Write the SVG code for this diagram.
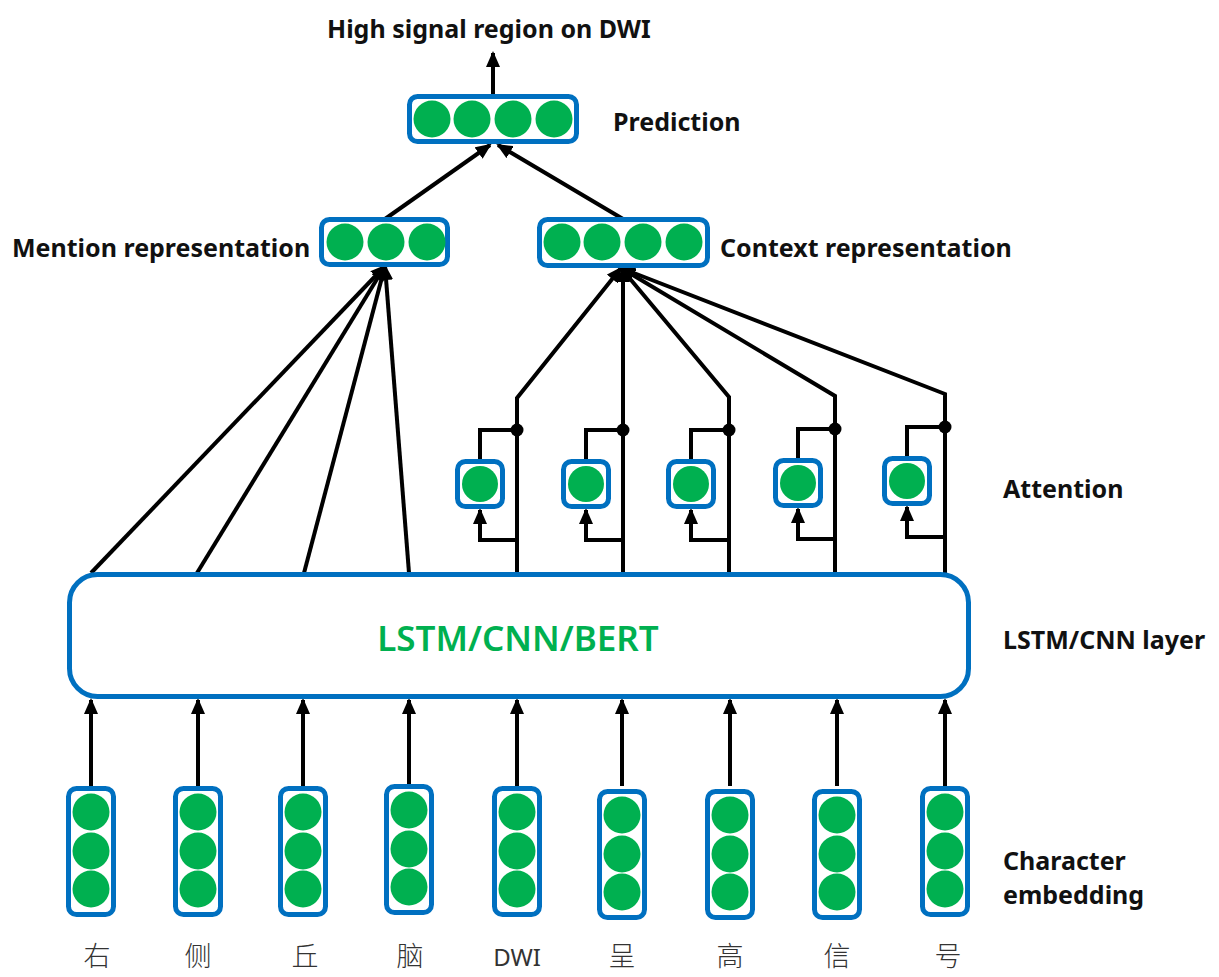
<svg xmlns="http://www.w3.org/2000/svg" width="1219" height="977" viewBox="0 0 1219 977">
<defs>
<marker id="ah" markerUnits="userSpaceOnUse" markerWidth="16" markerHeight="14" refX="14" refY="7" orient="auto">
<path d="M0,0 L16,7 L0,14 Z" fill="#000"/>
</marker>
<style>
.box{fill:#fff;stroke:#0070C0;stroke-width:5}
.dot{fill:#00B050}
.ln{fill:none;stroke:#000;stroke-width:4;stroke-linejoin:miter}
.ar{fill:none;stroke:#000;stroke-width:4;marker-end:url(#ah)}
.lbl{font-family:"Noto Sans","Liberation Sans",sans-serif;font-weight:bold;font-size:25px;fill:#111}
.ch{font-family:"Noto Sans CJK SC","Noto Sans",sans-serif;font-weight:300;font-size:27px;fill:#333;text-anchor:middle}
.dwi{font-family:"Noto Sans","Liberation Sans",sans-serif;font-weight:normal;font-size:24px;fill:#333;text-anchor:middle}
</style>
</defs>
<rect width="1219" height="977" fill="#fff"/>

<g id="connectors">
<line class="ar" x1="493" y1="94" x2="493" y2="53"/>
<line class="ar" x1="385" y1="219" x2="490" y2="145"/>
<line class="ar" x1="623" y1="219" x2="498" y2="145"/>
<line class="ar" x1="91" y1="573" x2="385" y2="266"/>
<line class="ar" x1="197" y1="573" x2="385" y2="266"/>
<line class="ar" x1="304" y1="573" x2="385" y2="266"/>
<line class="ar" x1="409" y1="573" x2="385" y2="266"/>
<polyline class="ar" points="517,573 517,398 621,268"/>
<polyline class="ar" points="623,573 623,268"/>
<polyline class="ar" points="729,573 729,397 621,268"/>
<polyline class="ar" points="835,573 835,396 621,268"/>
<polyline class="ar" points="945,573 945,394 621,268"/>
<polyline class="ln" points="517,430 480,430 480,459"/>
<polyline class="ar" points="517,540 480,540 480,510"/>
<polyline class="ln" points="623,430 586,430 586,459"/>
<polyline class="ar" points="623,540 586,540 586,510"/>
<polyline class="ln" points="729,430 691,430 691,459"/>
<polyline class="ar" points="729,540 691,540 691,510"/>
<polyline class="ln" points="835,429 798,429 798,458"/>
<polyline class="ar" points="835,539 798,539 798,509"/>
<polyline class="ln" points="945,427 907,427 907,456"/>
<polyline class="ar" points="945,537 907,537 907,507"/>
<circle cx="517" cy="430" r="6.5" fill="#000"/>
<circle cx="623" cy="430" r="6.5" fill="#000"/>
<circle cx="729" cy="430" r="6.5" fill="#000"/>
<circle cx="835" cy="429" r="6.5" fill="#000"/>
<circle cx="945" cy="427" r="6.5" fill="#000"/>
<line class="ar" x1="91" y1="786" x2="91" y2="700"/>
<line class="ar" x1="198" y1="786" x2="198" y2="700"/>
<line class="ar" x1="303" y1="786" x2="303" y2="700"/>
<line class="ar" x1="409" y1="786" x2="409" y2="700"/>
<line class="ar" x1="517" y1="786" x2="517" y2="700"/>
<line class="ar" x1="622" y1="786" x2="622" y2="700"/>
<line class="ar" x1="730" y1="786" x2="730" y2="700"/>
<line class="ar" x1="837" y1="786" x2="837" y2="700"/>
<line class="ar" x1="945" y1="786" x2="945" y2="700"/>
</g>

<g id="output-label">
<text class="lbl" x="327" y="38">High signal region on DWI</text>
</g>

<g id="prediction">
<rect class="box" x="409.5" y="96.5" width="167" height="45" rx="8"/>
<circle class="dot" cx="432" cy="119" r="18.5"/>
<circle class="dot" cx="472" cy="119" r="18.5"/>
<circle class="dot" cx="513" cy="119" r="18.5"/>
<circle class="dot" cx="554" cy="119" r="18.5"/>
<text class="lbl" x="613" y="131">Prediction</text>
</g>

<g id="mention">
<rect class="box" x="321.5" y="219.5" width="126" height="45" rx="8"/>
<circle class="dot" cx="345" cy="242" r="18.5"/>
<circle class="dot" cx="386" cy="242" r="18.5"/>
<circle class="dot" cx="427" cy="242" r="18.5"/>
<text class="lbl" x="12" y="257">Mention representation</text>
</g>

<g id="context">
<rect class="box" x="539.5" y="219.5" width="168" height="46" rx="8"/>
<circle class="dot" cx="562" cy="242" r="18.5"/>
<circle class="dot" cx="602" cy="242" r="18.5"/>
<circle class="dot" cx="643" cy="242" r="18.5"/>
<circle class="dot" cx="684" cy="242" r="18.5"/>
<text class="lbl" x="720" y="257">Context representation</text>
</g>

<g id="attention">
<rect class="box" x="457.5" y="461.5" width="45" height="45" rx="8"/>
<circle class="dot" cx="480" cy="484" r="18"/>
<rect class="box" x="563.5" y="461.5" width="45" height="45" rx="8"/>
<circle class="dot" cx="586" cy="484" r="18"/>
<rect class="box" x="668.5" y="461.5" width="45" height="45" rx="8"/>
<circle class="dot" cx="691" cy="484" r="18"/>
<rect class="box" x="775.5" y="460.5" width="45" height="45" rx="8"/>
<circle class="dot" cx="798" cy="483" r="18"/>
<rect class="box" x="884.5" y="458.5" width="45" height="45" rx="8"/>
<circle class="dot" cx="907" cy="481" r="18"/>
<text class="lbl" x="1003" y="498">Attention</text>
</g>

<g id="lstm">
<rect class="box" x="69.5" y="574.5" width="899" height="122" rx="28"/>
<text x="518" y="651" text-anchor="middle" font-family="Noto Sans, Liberation Sans, sans-serif" font-weight="600" font-size="35" fill="#00B050">LSTM/CNN/BERT</text>
<text class="lbl" x="1003" y="649">LSTM/CNN layer</text>
</g>

<g id="embeddings">
<g id="emb1"><rect class="box" x="68.5" y="788.5" width="45" height="126" rx="8"/><circle class="dot" cx="91" cy="812" r="18.5"/><circle class="dot" cx="91" cy="851" r="18.5"/><circle class="dot" cx="91" cy="889" r="18.5"/></g>
<g id="emb2"><rect class="box" x="175.5" y="788.5" width="45" height="126" rx="8"/><circle class="dot" cx="198" cy="812" r="18.5"/><circle class="dot" cx="198" cy="851" r="18.5"/><circle class="dot" cx="198" cy="889" r="18.5"/></g>
<g id="emb3"><rect class="box" x="280.5" y="788.5" width="45" height="126" rx="8"/><circle class="dot" cx="303" cy="812" r="18.5"/><circle class="dot" cx="303" cy="851" r="18.5"/><circle class="dot" cx="303" cy="889" r="18.5"/></g>
<g id="emb4"><rect class="box" x="386.5" y="786.5" width="45" height="126" rx="8"/><circle class="dot" cx="409" cy="810" r="18.5"/><circle class="dot" cx="409" cy="849" r="18.5"/><circle class="dot" cx="409" cy="887" r="18.5"/></g>
<g id="emb5"><rect class="box" x="494.5" y="788.5" width="45" height="126" rx="8"/><circle class="dot" cx="517" cy="812" r="18.5"/><circle class="dot" cx="517" cy="851" r="18.5"/><circle class="dot" cx="517" cy="889" r="18.5"/></g>
<g id="emb6"><rect class="box" x="599.5" y="791.5" width="45" height="126" rx="8"/><circle class="dot" cx="622" cy="815" r="18.5"/><circle class="dot" cx="622" cy="854" r="18.5"/><circle class="dot" cx="622" cy="892" r="18.5"/></g>
<g id="emb7"><rect class="box" x="707.5" y="791.5" width="45" height="126" rx="8"/><circle class="dot" cx="730" cy="815" r="18.5"/><circle class="dot" cx="730" cy="854" r="18.5"/><circle class="dot" cx="730" cy="892" r="18.5"/></g>
<g id="emb8"><rect class="box" x="814.5" y="791.5" width="45" height="126" rx="8"/><circle class="dot" cx="837" cy="815" r="18.5"/><circle class="dot" cx="837" cy="854" r="18.5"/><circle class="dot" cx="837" cy="892" r="18.5"/></g>
<g id="emb9"><rect class="box" x="922.5" y="788.5" width="45" height="126" rx="8"/><circle class="dot" cx="945" cy="812" r="18.5"/><circle class="dot" cx="945" cy="851" r="18.5"/><circle class="dot" cx="945" cy="889" r="18.5"/></g>
<text class="lbl" x="1003" y="870">Character</text>
<text class="lbl" x="1003" y="904">embedding</text>
</g>

<g id="tokens">
<text class="ch" x="97" y="966">右</text>
<text class="ch" x="198" y="966">侧</text>
<text class="ch" x="305" y="966">丘</text>
<text class="ch" x="410" y="966">脑</text>
<text class="dwi" x="517" y="966">DWI</text>
<text class="ch" x="622" y="966">呈</text>
<text class="ch" x="730" y="966">高</text>
<text class="ch" x="837" y="966">信</text>
<text class="ch" x="948" y="966">号</text>
</g>
</svg>
